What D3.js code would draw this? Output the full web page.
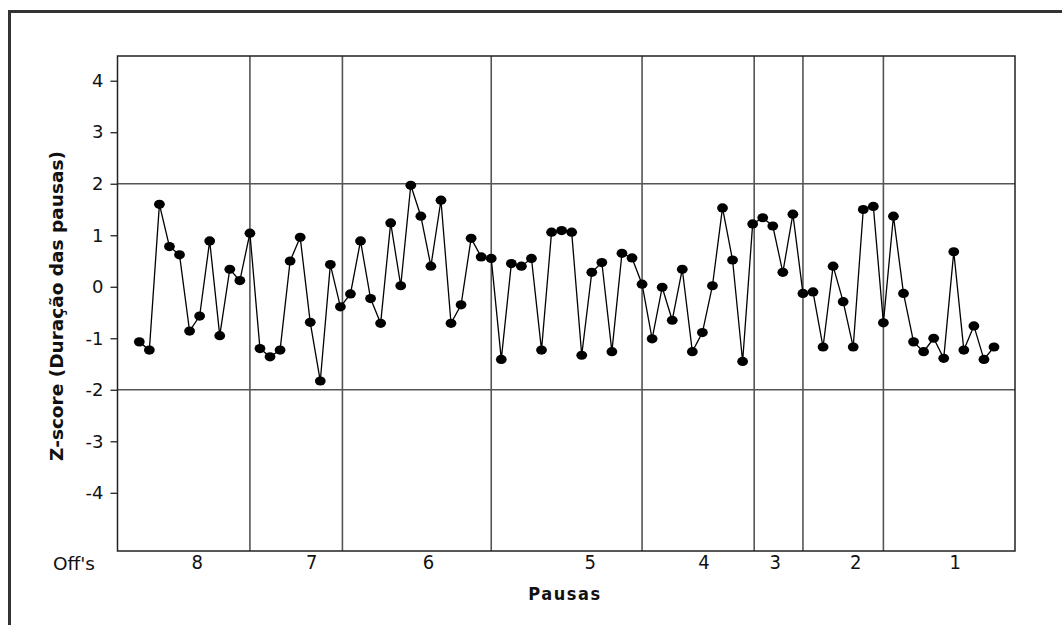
<!DOCTYPE html>
<html>
<head>
<meta charset="utf-8">
<script src="https://cdn.jsdelivr.net/npm/d3@7"></script>
<style>
  html, body { margin: 0; padding: 0; background: #fff; }
  svg { display: block; }
</style>
</head>
<body>
<svg id="chart" width="1062" height="625"></svg>
<script>
// Z-score of each pause duration, in sequence (pause index 1..86)
const zScores = [
  -1.07, -1.23, 1.60, 0.78, 0.62, -0.86, -0.57, 0.89, -0.95, 0.34, 0.12, 1.04,
  -1.20, -1.36, -1.23, 0.50, 0.96, -0.69, -1.83, 0.43, -0.39,
  -0.14, 0.89, -0.23, -0.71, 1.24, 0.02, 1.97, 1.37, 0.40, 1.68, -0.71, -0.35, 0.94, 0.58, 0.55,
  -1.41, 0.45, 0.40, 0.55, -1.23, 1.06, 1.09, 1.06, -1.33, 0.28, 0.47, -1.26, 0.65, 0.56, 0.05,
  -1.01, -0.01, -0.65, 0.34, -1.26, -0.89, 0.02, 1.53, 0.52, -1.45, 1.22,
  1.34, 1.18, 0.28, 1.41, -0.13,
  -0.10, -1.17, 0.40, -0.29, -1.17, 1.50, 1.56, -0.70,
  1.37, -0.13, -1.07, -1.26, -1.00, -1.39, 0.68, -1.23, -0.76, -1.41, -1.17
];

// Boundaries between the "Off" groups, expressed as pause index
const groupBreaks = [12, 21.2, 36, 51, 62.15, 67, 75];

// Group labels ("Off's") and where each sits along the pause index
const groupLabels = ["8", "7", "6", "5", "4", "3", "2", "1"];
const groupLabelPos = [6.7, 18.1, 29.7, 45.8, 57.1, 64.2, 72.2, 82.1];

// Y ticks and the reference lines at +/-2
const yTicks = [-4, -3, -2, -1, 0, 1, 2, 3, 4];
const refLines = [2, -2];

const svg = d3.select("#chart");

// Outer frame (top and left edges)
svg.append("line").attr("x1", 8).attr("x2", 1062).attr("y1", 11.5).attr("y2", 11.5)
  .attr("stroke", "#333").attr("stroke-width", 3);
svg.append("line").attr("x1", 9.5).attr("x2", 9.5).attr("y1", 10).attr("y2", 625)
  .attr("stroke", "#333").attr("stroke-width", 3);

const plot = { left: 117.5, right: 1015, top: 56, bottom: 551 };

const x = d3.scaleLinear().domain([1, zScores.length]).range([139.3, 994]);
const y = d3.scaleLinear().domain([-5.13, 4.48]).range([plot.bottom, plot.top]);

// Reference lines at z = +/-2
svg.append("g").selectAll("line").data(refLines).join("line")
  .attr("x1", plot.left).attr("x2", plot.right)
  .attr("y1", d => y(d)).attr("y2", d => y(d))
  .attr("stroke", "#555").attr("stroke-width", 1.6);

// Group separators
svg.append("g").selectAll("line").data(groupBreaks).join("line")
  .attr("x1", d => x(d)).attr("x2", d => x(d))
  .attr("y1", plot.top).attr("y2", plot.bottom)
  .attr("stroke", "#555").attr("stroke-width", 1.6);

// Plot frame
svg.append("rect")
  .attr("x", plot.left).attr("y", plot.top)
  .attr("width", plot.right - plot.left).attr("height", plot.bottom - plot.top)
  .attr("fill", "none").attr("stroke", "#222").attr("stroke-width", 1.5);

// Y axis
const yAxis = d3.axisLeft(y).tickValues(yTicks).tickSize(7).tickPadding(7)
  .tickFormat(d => d3.format("d")(d).replace("\u2212", "-"));
const yg = svg.append("g").attr("transform", `translate(${plot.left},0)`).call(yAxis);
yg.select(".domain").remove();
yg.selectAll(".tick line").attr("stroke", "#222").attr("stroke-width", 1.3);
yg.selectAll(".tick text")
  .attr("font-family", "DejaVu Sans, Verdana, sans-serif")
  .attr("font-size", 18).attr("fill", "#111");

// X axis: group labels
const xAxis = d3.axisBottom(x).tickValues(groupLabelPos).tickSize(0).tickPadding(4)
  .tickFormat((d, i) => groupLabels[i]);
const xg = svg.append("g").attr("transform", `translate(0,${plot.bottom})`).call(xAxis);
xg.select(".domain").remove();
xg.selectAll(".tick text")
  .attr("font-family", "DejaVu Sans Condensed, DejaVu Sans, sans-serif")
  .attr("font-size", 20).attr("fill", "#111");

svg.append("text").attr("x", 74).attr("y", 570)
  .attr("text-anchor", "middle")
  .attr("font-family", "DejaVu Sans, Verdana, sans-serif")
  .attr("font-size", 18.5).attr("fill", "#111")
  .text("Off's");

// Axis titles
svg.append("text").attr("x", 565).attr("y", 600)
  .attr("text-anchor", "middle")
  .attr("font-family", "DejaVu Sans Condensed, DejaVu Sans, sans-serif")
  .attr("font-weight", "bold").attr("font-size", 18)
  .attr("letter-spacing", 1.6).attr("fill", "#111")
  .text("Pausas");

svg.append("text")
  .attr("transform", "translate(63,306) rotate(-90)")
  .attr("text-anchor", "middle")
  .attr("font-family", "DejaVu Sans, Verdana, sans-serif")
  .attr("font-weight", "bold").attr("font-size", 18.5).attr("fill", "#111")
  .text("Z-score (Duração das pausas)");

// Series line and markers
const line = d3.line().x((d, i) => x(i + 1)).y(d => y(d));
svg.append("path").datum(zScores)
  .attr("d", line).attr("fill", "none")
  .attr("stroke", "#000").attr("stroke-width", 1.3);

svg.append("g").selectAll("ellipse").data(zScores).join("ellipse")
  .attr("cx", (d, i) => x(i + 1)).attr("cy", d => y(d))
  .attr("rx", 5.4).attr("ry", 4.6).attr("fill", "#000");
</script>
</body>
</html>
